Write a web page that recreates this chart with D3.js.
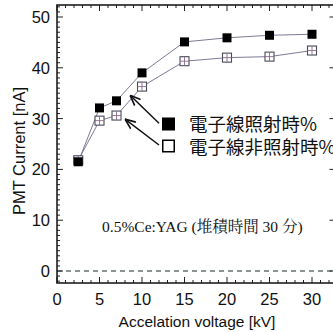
<!DOCTYPE html>
<html><head><meta charset="utf-8">
<script src="https://cdn.jsdelivr.net/npm/d3@7"></script>
<style>body{margin:0;background:#fff;}svg{display:block;}</style>
</head><body>
<svg id="c" width="333" height="332"></svg>
<script>
const voltages = [2.5, 5, 7, 10, 15, 20, 25, 30];
const irradiated = [21.5, 32.1, 33.5, 39.0, 45.1, 45.9, 46.4, 46.6];
const nonIrradiated = [21.8, 29.6, 30.6, 36.3, 41.3, 42.0, 42.2, 43.4];
const xTicks = [0, 5, 10, 15, 20, 25, 30];
const yTicks = [0, 10, 20, 30, 40, 50];
const legendLabels = ["電子線照射時%", "電子線非照射時%"];
const annotation = "0.5%Ce:YAG (堆積時間 30 分)";
const xTitle = "Accelation voltage [kV]";
const yTitle = "PMT Current [nA]";
// arrows: [fromX, fromY, toX, toY] in data units
const arrows = [[12.0, 29.1, 8.6, 34.6], [12.0, 24.8, 8.0, 29.9]];

const svg = d3.select("#c");
const L = 57, R = 337.5, T = 5, B = 283;
const x = d3.scaleLinear().domain([0, 33]).range([L, R]);
const y = d3.scaleLinear().domain([-2.36, 52.36]).range([B, T]);
const sans = "'Liberation Sans', Arial, sans-serif";

// zero dashed line
svg.append("line").attr("x1", L).attr("x2", R).attr("y1", y(0)).attr("y2", y(0))
  .attr("stroke", "#1a2a2a").attr("stroke-width", 1).attr("stroke-dasharray", "5,4");

// minor/major ticks
const g = svg.append("g").attr("stroke", "#222").attr("stroke-width", 1);
d3.range(0, 34, 1).forEach(v => {
  const len = v % 5 === 0 ? 6 : 3;
  g.append("line").attr("x1", x(v)).attr("x2", x(v)).attr("y1", B).attr("y2", B - len);
  g.append("line").attr("x1", x(v)).attr("x2", x(v)).attr("y1", T).attr("y2", T + len);
});
d3.range(-2, 53, 1).forEach(v => {
  const len = v % 10 === 0 ? 6 : 3;
  g.append("line").attr("y1", y(v)).attr("y2", y(v)).attr("x1", L).attr("x2", L + len);
  if (v % 10 === 0) g.append("line").attr("y1", y(v)).attr("y2", y(v)).attr("x1", R).attr("x2", R - 8);
});

// frame
svg.append("rect").attr("x", L).attr("y", T).attr("width", R - L).attr("height", B - T)
  .attr("fill", "none").attr("stroke", "#111").attr("stroke-width", 1.5);

// tick labels
svg.selectAll(".xt").data(xTicks).enter().append("text")
  .attr("x", d => x(d)).attr("y", 305).attr("text-anchor", "middle")
  .attr("font-family", sans).attr("font-size", 16.5).attr("fill", "#111").text(d => d);
svg.selectAll(".yt").data(yTicks).enter().append("text")
  .attr("x", 50).attr("y", d => y(d) + 6).attr("text-anchor", "end")
  .attr("font-family", sans).attr("font-size", 16.5).attr("fill", "#111").text(d => d);

// titles
svg.append("text").attr("x", 197).attr("y", 327).attr("text-anchor", "middle")
  .attr("font-family", sans).attr("font-size", 15.5).attr("fill", "#111").text(xTitle);
svg.append("text").attr("transform", "translate(25,151) rotate(-90)").attr("text-anchor", "middle")
  .attr("font-family", sans).attr("font-size", 16.5).attr("fill", "#111").text(yTitle);

// lines
const line = d3.line().x((d, i) => x(voltages[i])).y(d => y(d));
svg.append("path").datum(nonIrradiated).attr("d", line).attr("fill", "none")
  .attr("stroke", "#7d7a94").attr("stroke-width", 1);
svg.append("path").datum(irradiated).attr("d", line).attr("fill", "none")
  .attr("stroke", "#7d7a94").attr("stroke-width", 1);

// open markers with cross
const s = 9;
const om = svg.selectAll(".om").data(nonIrradiated).enter().append("g")
  .attr("transform", (d, i) => `translate(${x(voltages[i])},${y(d)})`);
om.append("rect").attr("x", -s / 2).attr("y", -s / 2).attr("width", s).attr("height", s)
  .attr("fill", "#fff").attr("stroke", "#4a4a5a").attr("stroke-width", 1.1);
om.append("path").attr("d", `M0,${-s/2}V${s/2}M${-s/2},0H${s/2}`).attr("stroke", "#8a6a8a").attr("stroke-width", 0.9);

// filled markers
svg.selectAll(".fm").data(irradiated).enter().append("rect")
  .attr("x", (d, i) => x(voltages[i]) - 4.5).attr("y", d => y(d) - 4.5)
  .attr("width", 9).attr("height", 9).attr("fill", "#000");

// arrows
const defs = svg.append("defs");
defs.append("marker").attr("id", "ah").attr("viewBox", "0 0 10 10").attr("refX", 10).attr("refY", 5)
  .attr("markerWidth", 7).attr("markerHeight", 7).attr("orient", "auto")
  .append("path").attr("d", "M0,1L10,5L0,9").attr("fill", "none").attr("stroke", "#111").attr("stroke-width", 1.6);
arrows.forEach(a => {
  svg.append("line").attr("x1", x(a[0])).attr("y1", y(a[1])).attr("x2", x(a[2])).attr("y2", y(a[3]))
    .attr("stroke", "#111").attr("stroke-width", 1.5).attr("marker-end", "url(#ah)");
});

// legend
const lg = svg.append("g");
lg.append("rect").attr("x", 162).attr("y", 117.5).attr("width", 13).attr("height", 13).attr("fill", "#000");
lg.append("rect").attr("x", 162.75).attr("y", 140.25).attr("width", 11.5).attr("height", 11.5)
  .attr("fill", "#fff").attr("stroke", "#000").attr("stroke-width", 1.5);
legendLabels.forEach((t, i) => {
  lg.append("text").attr("x", 189).attr("y", 131 + i * 22.5)
    .attr("font-family", "'Noto Sans CJK JP', sans-serif").attr("font-size", 18.5).attr("fill", "#111").text(t);
});

// annotation
svg.append("text").attr("x", 102).attr("y", 232)
  .attr("font-family", "'Liberation Serif', 'Noto Serif CJK JP', 'Noto Sans CJK JP', serif")
  .attr("font-size", 15.5).attr("fill", "#111").text(annotation);
</script>
</body></html>
